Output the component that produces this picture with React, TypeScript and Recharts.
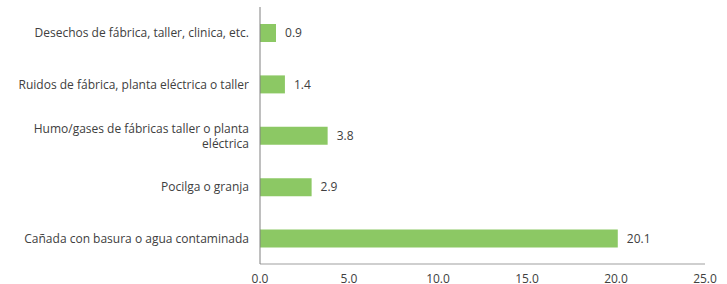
import { BarChart, Bar, XAxis, YAxis, LabelList } from "recharts";

const categorias = [
  "Desechos de fábrica, taller, clinica, etc.",
  "Ruidos de fábrica, planta eléctrica o taller",
  "Humo/gases de fábricas taller o planta eléctrica",
  "Pocilga o granja",
  "Cañada con basura o agua contaminada",
];
const valores = [0.9, 1.4, 3.8, 2.9, 20.1];
const ticksX = [0, 5, 10, 15, 20, 25];

const data = categorias.map((c, i) => ({ categoria: c, valor: valores[i] }));

const FONT = "'Open Sans', sans-serif";

// greedy word wrap by character count
function wrap(text: string, max: number) {
  const lines: string[] = [];
  let cur = "";
  for (const w of text.split(" ")) {
    const next = cur ? cur + " " + w : w;
    if (next.length > max && cur) {
      lines.push(cur);
      cur = w;
    } else cur = next;
  }
  if (cur) lines.push(cur);
  return lines;
}

function CategoryTick(props: any) {
  const { x, y, payload } = props;
  const lines = wrap(payload.value, 44);
  const lh = 15;
  const y0 = y - ((lines.length - 1) * lh) / 2;
  return (
    <g>
      {lines.map((l, i) => (
        <text
          key={i}
          x={x - 3}
          y={y0 + i * lh}
          textAnchor="end"
          dominantBaseline="central"
          fontSize={12}
          fontFamily={FONT}
          fill="#404040"
        >
          {l}
        </text>
      ))}
    </g>
  );
}

export default function App() {
  return (
    <div style={{ width: 727, height: 284, background: "#fff" }}>
      <style>{"body{margin:0}"}</style>
      <BarChart
        width={727}
        height={284}
        data={data}
        layout="vertical"
        margin={{ top: 7, right: 22, left: 0, bottom: 0 }}
      >
        <XAxis
          type="number"
          domain={[0, 25]}
          ticks={ticksX}
          tickFormatter={(v: number) => v.toFixed(1)}
          tickLine={false}
          axisLine={{ stroke: "#bfbfbf", strokeWidth: 1.5 }}
          tick={{ fontSize: 12, fill: "#404040", fontFamily: FONT }}
          tickMargin={4}
          height={20}
          interval={0}
        />
        <YAxis
          type="category"
          dataKey="categoria"
          width={260}
          tickLine={false}
          axisLine={{ stroke: "#808080", strokeWidth: 1 }}
          tick={<CategoryTick />}
          interval={0}
        />
        <Bar dataKey="valor" fill="#8cc864" barSize={18} isAnimationActive={false}>
          <LabelList
            dataKey="valor"
            position="right"
            offset={9}
            formatter={(v: number) => v.toFixed(1)}
            style={{ fontSize: 12, fill: "#404040", fontFamily: FONT }}
          />
        </Bar>
      </BarChart>
    </div>
  );
}
